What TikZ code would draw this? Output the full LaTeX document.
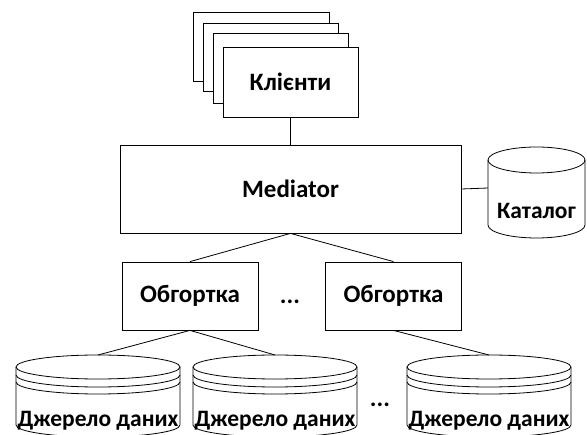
\documentclass[tikz,border=0pt]{standalone}
\usepackage{fontspec}
\setmainfont{Carlito}
\begin{document}
\begin{tikzpicture}[x=1pt,y=1pt,line width=0.8pt,
  box/.style={draw,fill=white,inner sep=0pt,font=\fontsize{25}{30}\selectfont\bfseries},
  lbl/.style={inner sep=0pt,font=\fontsize{25}{30}\selectfont\bfseries},
  dslbl/.style={inner sep=0pt,font=\fontsize{23.5}{28}\selectfont\bfseries}]
\useasboundingbox (0,0) rectangle (587,-435);
\clip (0,0) rectangle (587,-435);
% client stack
\draw[fill=white] (193,-12) rectangle (329,-81);
\draw[fill=white] (203,-23) rectangle (338,-91);
\draw[fill=white] (213,-33) rectangle (348,-103);
\node[box,minimum width=135pt,minimum height=70pt] (client) at (290.5,-82) {Клієнти};
% mediator
\node[box,minimum width=341pt,minimum height=88pt] (med) at (290.5,-189) {Mediator};
% wrappers
\node[box,minimum width=136pt,minimum height=68pt] (w1) at (190,-296) {Обгортка};
\node[box,minimum width=136pt,minimum height=68pt] (w2) at (393.5,-296) {Обгортка};
\node[lbl,anchor=base] (dots1) at (290,-304) {...};
% catalog cylinder
\draw (488,-160) -- (488,-225) arc[start angle=180,end angle=360,x radius=48.5,y radius=13] -- (585,-160);
\draw (536.5,-160) ellipse[x radius=48.5,y radius=13];
\coordinate (catw) at (488,-188);
\node[dslbl] (cat) at (536.5,-211) {Каталог};
% data sources
\foreach \cx/\nm in {98/ds1,275/ds2,489/ds3}{
  \draw (\cx-82,-367) -- (\cx-82,-425) arc[start angle=180,end angle=360,x radius=82,y radius=12] -- (\cx+82,-367);
  \draw (\cx,-367) ellipse[x radius=82,y radius=12];
  \draw (\cx-82,-375) arc[start angle=180,end angle=360,x radius=82,y radius=12];
  \draw (\cx-82,-382) arc[start angle=180,end angle=360,x radius=82,y radius=12];
  \coordinate (\nm) at (\cx,-355);
  \node[dslbl] (\nm t) at (\cx,-421) {Джерело даних};
}
\node[lbl,anchor=base] (dots2) at (380,-407) {...};
% connectors
\draw (client.south) -- (med.north);
\draw (med.east) -- (catw);
\draw (med.south) -- (w1.north);
\draw (med.south) -- (w2.north);
\draw (w1.south) -- (ds1);
\draw (w1.south) -- (ds2);
\draw (w2.south) -- (ds3);
\end{tikzpicture}
\end{document}
